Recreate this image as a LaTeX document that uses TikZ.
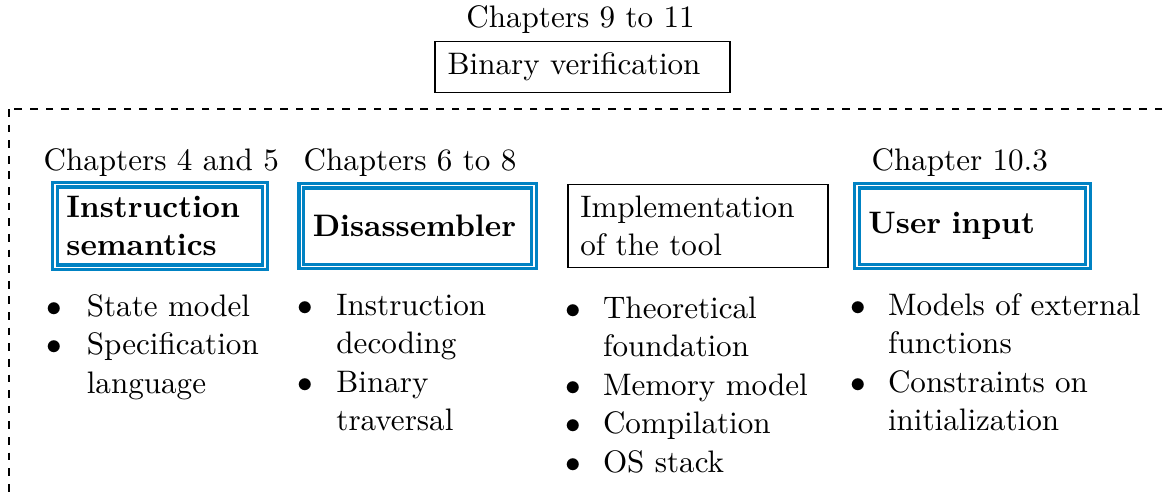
\documentclass[tikz,border=0pt]{standalone}
\usetikzlibrary{positioning}
\definecolor{tblue}{RGB}{0,130,195}
\newcommand{\blist}[2]{\begin{tabular}[t]{@{}l@{\hspace{#1}}l@{}}#2\end{tabular}}
\begin{document}
\begin{tikzpicture}[x=0.3521pt,y=-0.3521pt,
  every node/.style={font=\fontsize{10.95}{13.6}\selectfont},
  plainbox/.style={draw=black, line width=0.5pt, rectangle, inner xsep=4.3pt, inner ysep=4pt, align=left},
  bluebox/.style={draw=tblue, double=white, double distance=0.6pt, line width=1.1pt, rectangle,
    inner xsep=4pt, inner ysep=4pt, align=left, minimum height=28.5pt,
    font=\fontsize{10.95}{13.6}\selectfont\bfseries},
  chap/.style={inner sep=0pt, anchor=base west},
  items/.style={inner sep=0pt, anchor=base west},
  region/.style={draw=black, line width=0.6pt, dash pattern=on 2.7pt off 2.8pt}]
\clip (0,0) rectangle (1169,497);
\useasboundingbox (0,0) rectangle (1169,497);

% outer dashed region (continues beyond the picture)
\draw[region] (9,109) rectangle (1190,520);

% top
\node[inner sep=0pt, anchor=base] (topch) at (580.5,27) {Chapters 9 to 11};
\node[plainbox, inner xsep=4.5pt, text width=95pt] (bv) at (582.5,67) {Binary verification};

% chapter labels
\node[chap] (ch1) at (43,170) {Chapters 4 and 5};
\node[chap] (ch2) at (303,170) {Chapters 6 to 8};
\node[chap] (ch4) at (871,170) {Chapter 10.3};

% boxes
\node[bluebox, text width=65.9pt] (sem) at (160,226) {Instruction\\semantics};
\node[bluebox, text width=73.9pt] (dis) at (417.7,226) {Disassembler};
\node[plainbox, minimum height=28.5pt, text width=82.9pt] (impl) at (698,226) {Implementation\\of the tool};
\node[bluebox, text width=73.3pt] (usr) at (972.5,226) {User input};

% lists
\node[items] (l1) at (46.3,316) {\blist{8.6pt}{$\bullet$ & State model\\ $\bullet$ & Specification\\ & language}};
\node[items] (l2) at (297.3,315) {\blist{8.1pt}{$\bullet$ & Instruction\\ & decoding\\ $\bullet$ & Binary\\ & traversal}};
\node[items] (l3) at (565.3,318) {\blist{7.6pt}{$\bullet$ & Theoretical\\ & foundation\\ $\bullet$ & Memory model\\ $\bullet$ & Compilation\\ $\bullet$ & OS stack}};
\node[items] (l4) at (850.3,315) {\blist{7.6pt}{$\bullet$ & Models of external\\ & functions\\ $\bullet$ & Constraints on\\ & initialization}};
\end{tikzpicture}
\end{document}
